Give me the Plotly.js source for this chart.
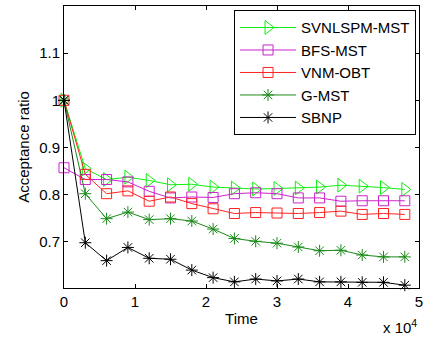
<!DOCTYPE html>
<html>
<head>
<meta charset="utf-8">
<script src="https://cdn.plot.ly/plotly-3.0.1.min.js"></script>
<style>html,body{margin:0;padding:0;background:#fff;}#chart{width:425px;height:337px;}</style>
</head>
<body>
<div id="chart"></div>
<script>
var time = [0, 3000, 6000, 9000, 12000, 15000, 18000, 21000, 24000, 27000, 30000, 33000, 36000, 39000, 42000, 45000, 48000];
var seriesNames = ["SVNLSPM-MST", "BFS-MST", "VNM-OBT", "G-MST", "SBNP"];
var svnlspm = [1.0, 0.855, 0.832, 0.837, 0.830, 0.821, 0.822, 0.816, 0.814, 0.812, 0.813, 0.814, 0.816, 0.820, 0.818, 0.815, 0.811];
var bfs = [0.857, 0.832, 0.832, 0.827, 0.807, 0.793, 0.795, 0.794, 0.802, 0.804, 0.802, 0.793, 0.793, 0.786, 0.787, 0.787, 0.787];
var vnm = [1.0, 0.843, 0.802, 0.808, 0.786, 0.795, 0.781, 0.770, 0.760, 0.762, 0.761, 0.760, 0.762, 0.765, 0.758, 0.760, 0.758];
var gmst = [1.0, 0.802, 0.749, 0.763, 0.747, 0.749, 0.744, 0.727, 0.707, 0.701, 0.697, 0.689, 0.681, 0.682, 0.672, 0.668, 0.668];
var sbnp = [1.0, 0.698, 0.660, 0.688, 0.665, 0.663, 0.640, 0.624, 0.615, 0.621, 0.617, 0.621, 0.615, 0.615, 0.614, 0.614, 0.608];
var yTicks = [0.7, 0.8, 0.9, 1, 1.1];
var xTicks = [0, 10000, 20000, 30000, 40000, 50000];
var xTickText = ["0", "1", "2", "3", "4", "5"];

var colors = ["#11ee11", "#cc22cc", "#ff2222", "#1a8a1a", "#000000"];
var symbols = ["triangle-right-open", "square-open", "square-open", "asterisk-open", "asterisk-open"];
var sizes = [12, 10, 10, 10, 10];
var data = [svnlspm, bfs, vnm, gmst, sbnp];

var traces = data.map(function(ys, i) {
  return {
    x: time, y: ys, name: seriesNames[i], type: "scatter", mode: "lines+markers",
    line: {color: colors[i], width: 1},
    marker: {symbol: symbols[i], size: sizes[i], color: colors[i], line: {color: colors[i], width: 1}},
    cliponaxis: false
  };
});

var layout = {
  width: 425, height: 337,
  margin: {l: 64, r: 6, t: 6, b: 49},
  paper_bgcolor: "#fff", plot_bgcolor: "#fff",
  font: {family: "Liberation Sans, Arial, sans-serif", size: 15, color: "#000"},
  showlegend: true,
  legend: {
    x: 0.479, y: 0.985, xanchor: "left", yanchor: "top",
    bgcolor: "#fff", bordercolor: "#000", borderwidth: 1,
    font: {size: 15, color: "#000"}, tracegroupgap: 0, itemwidth: 56
  },
  xaxis: {
    range: [0, 50000], tickvals: xTicks, ticktext: xTickText,
    showgrid: false, zeroline: false, showline: true, linecolor: "#000", linewidth: 1, mirror: "allticks",
    ticks: "inside", ticklen: 4, tickcolor: "#000",
    title: {text: "Time", font: {size: 15}, standoff: 4}
  },
  yaxis: {
    range: [0.602, 1.2], tickvals: yTicks,
    showgrid: false, zeroline: false, showline: true, linecolor: "#000", linewidth: 1, mirror: "allticks",
    ticks: "inside", ticklen: 4, tickcolor: "#000",
    title: {text: "Acceptance ratio", font: {size: 15}, standoff: 5}
  },
  annotations: [{
    xref: "paper", yref: "paper", x: 1.0, y: -0.178, xanchor: "right", yanchor: "bottom",
    text: "x 10<sup>4</sup>", showarrow: false, font: {size: 15}
  }]
};

Plotly.newPlot("chart", traces, layout, {staticPlot: true, displayModeBar: false});
</script>
</body>
</html>
